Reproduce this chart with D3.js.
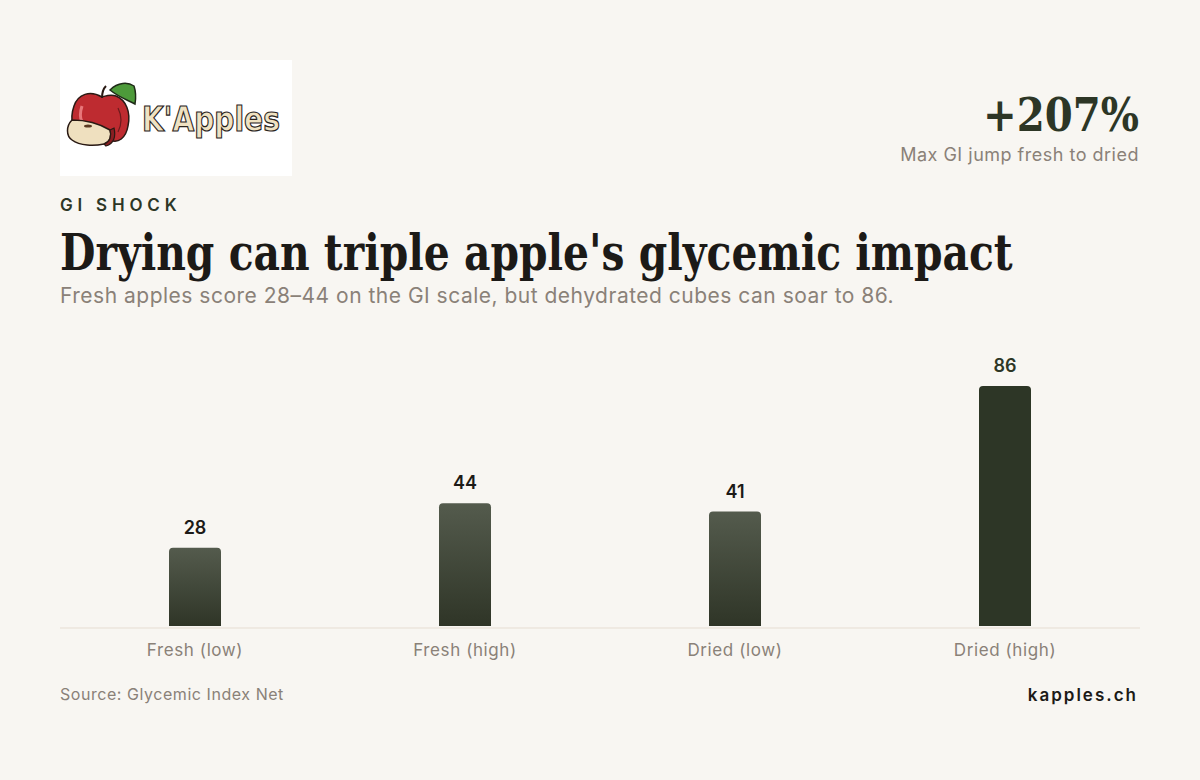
<!DOCTYPE html>
<html><head><meta charset="utf-8">
<script src="https://cdn.jsdelivr.net/npm/d3@7"></script>
<style>
html,body{margin:0;padding:0;background:#f8f6f2;}
svg{display:block;}
</style></head>
<body>
<script>
const categories = ["Fresh (low)", "Fresh (high)", "Dried (low)", "Dried (high)"];
const giValues = [28, 44, 41, 86];
const highlight = [false, false, false, true];

const W = 1200, H = 780;
const svg = d3.select("body").append("svg").attr("width", W).attr("height", H);
svg.append("rect").attr("width", W).attr("height", H).attr("fill", "#f8f6f2");

const defs = svg.append("defs");
const grad = defs.append("linearGradient").attr("id", "barGrad").attr("x1", 0).attr("y1", 0).attr("x2", 0).attr("y2", 1);
grad.append("stop").attr("offset", "0%").attr("stop-color", "#545b4d");
grad.append("stop").attr("offset", "100%").attr("stop-color", "#2f3527");

// fit text horizontally to a target width by scaling
function fitText(sel, tx, ty, targetW, anchor) {
  const w = sel.node().getComputedTextLength();
  const s = targetW / w;
  sel.attr("x", 0).attr("y", 0).attr("text-anchor", anchor || "start")
    .attr("transform", `translate(${tx},${ty}) scale(${s},1)`);
}

// Logo
const logo = svg.append("g").attr("transform", "translate(60,60)");
logo.append("rect").attr("width", 232).attr("height", 116).attr("fill", "#ffffff");
logo.append("path").attr("d", "M50,30 C58,22 68,22 74,26 C76,32 76,38 75,44 C68,40 60,38 50,30 Z")
  .attr("fill", "#4d9a3a").attr("stroke", "#1f2a18").attr("stroke-width", 1.5);
logo.append("path").attr("d", "M42,37 C30,30 18,34 14,46 C9,60 13,74 24,80 C34,86 44,84 50,80 C58,84 66,78 68,66 C71,52 66,40 56,36 C50,34 46,36 42,37 Z")
  .attr("fill", "#be2b30").attr("stroke", "#2a1a14").attr("stroke-width", 1.5);
logo.append("path").attr("d", "M22,46 C20,52 20,58 22,62").attr("fill", "none").attr("stroke", "#e8777a").attr("stroke-width", 3);
logo.append("path").attr("d", "M58,48 C62,56 62,64 58,72").attr("fill", "none").attr("stroke", "#6d1a1c").attr("stroke-width", 1.2);
logo.append("path").attr("d", "M42,38 C42,32 44,28 46,26").attr("fill", "none").attr("stroke", "#2a1a14").attr("stroke-width", 2);
logo.append("path").attr("d", "M12,60 C6,66 6,76 12,80 C20,86 34,86 44,84 C50,82 52,76 50,70 C40,64 26,60 12,60 Z")
  .attr("fill", "#efe0bf").attr("stroke", "#2a1a14").attr("stroke-width", 1.5);
logo.append("path").attr("d", "M44,84 C50,82 52,76 50,70 L54,68 C56,76 54,84 46,86 Z")
  .attr("fill", "#8a1e22").attr("stroke", "#2a1a14").attr("stroke-width", 1.2);
logo.append("ellipse").attr("cx", 28).attr("cy", 66).attr("rx", 4).attr("ry", 1.6).attr("fill", "#5a3a22");
const logoText = logo.append("text").text("K'Apples")
  .attr("font-family", "'Comic Sans MS', 'DejaVu Sans', sans-serif").attr("font-weight", 700)
  .attr("font-size", 33).attr("fill", "#efe2c2").attr("stroke", "#2a241c").attr("stroke-width", 1.2);
fitText(logoText, 82, 71, 138);

// Top right stat
const stat = svg.append("text")
  .attr("font-family", "'DejaVu Serif', serif").attr("font-weight", 700).attr("font-size", 46)
  .attr("fill", "#2d3626").text("+207%");
fitText(stat, 1139, 131, 156, "end");
svg.append("text").attr("x", 1139).attr("y", 161).attr("text-anchor", "end")
  .attr("font-family", "Inter, sans-serif").attr("font-size", 18).attr("letter-spacing", "0.5px").attr("fill", "#8a8178")
  .text("Max GI jump fresh to dried");

// Headings
svg.append("text").attr("x", 60).attr("y", 211).attr("font-family", "Inter, sans-serif")
  .attr("font-weight", 600).attr("font-size", 17).attr("letter-spacing", "4.8px").attr("fill", "#2d3626").text("GI SHOCK");
const title = svg.append("text").attr("font-family", "'DejaVu Serif', serif")
  .attr("font-weight", 700).attr("font-size", 50).attr("fill", "#1c1a17")
  .text("Drying can triple apple's glycemic impact");
fitText(title, 60, 270, 953);
svg.append("text").attr("x", 60).attr("y", 303).attr("font-family", "Inter, sans-serif")
  .attr("font-size", 21).attr("letter-spacing", "0.5px").attr("fill", "#8a8178")
  .text("Fresh apples score 28–44 on the GI scale, but dehydrated cubes can soar to 86.");

// Chart
const x = d3.scaleBand().domain(categories).range([60, 1140]).padding(0);
const y = d3.scaleLinear().domain([0, d3.max(giValues)]).range([626, 386]);
const barW = 52, r = 4;

const data = categories.map((c, i) => ({ c, v: giValues[i], hi: highlight[i] }));

function barPath(d) {
  const cx = x(d.c) + x.bandwidth() / 2;
  const x0 = cx - barW / 2, x1 = cx + barW / 2, yt = y(d.v), yb = y(0);
  return `M${x0},${yb} L${x0},${yt + r} Q${x0},${yt} ${x0 + r},${yt} L${x1 - r},${yt} Q${x1},${yt} ${x1},${yt + r} L${x1},${yb} Z`;
}

svg.append("g").selectAll("path").data(data).join("path")
  .attr("d", barPath)
  .attr("fill", d => d.hi ? "#2d3626" : "url(#barGrad)");

svg.append("g").selectAll("text").data(data).join("text")
  .attr("x", d => x(d.c) + x.bandwidth() / 2)
  .attr("y", d => y(d.v) - 14)
  .attr("text-anchor", "middle")
  .attr("font-family", "Inter, sans-serif").attr("font-weight", 600).attr("font-size", 18)
  .attr("fill", d => d.hi ? "#2d3626" : "#1c1a17")
  .text(d => d.v);

const xAxis = svg.append("g").attr("transform", "translate(0,628)")
  .call(d3.axisBottom(x).tickSize(0).tickPadding(16));
xAxis.select(".domain").attr("stroke", "#e6ddd2").attr("stroke-width", 1).attr("d", "M60,0H1140");
xAxis.selectAll("text").attr("font-family", "Inter, sans-serif").attr("font-size", 17)
  .attr("letter-spacing", "0.6px").attr("fill", "#8a8178");

// Footer
svg.append("text").attr("x", 60).attr("y", 700).attr("font-family", "Inter, sans-serif")
  .attr("font-size", 16).attr("letter-spacing", "0.55px").attr("fill", "#8a8178").text("Source: Glycemic Index Net");
svg.append("text").attr("x", 1138).attr("y", 701).attr("text-anchor", "end").attr("font-family", "Inter, sans-serif")
  .attr("font-weight", 600).attr("font-size", 17).attr("letter-spacing", "2px").attr("fill", "#1c1a17").text("kapples.ch");
</script>
</body></html>
